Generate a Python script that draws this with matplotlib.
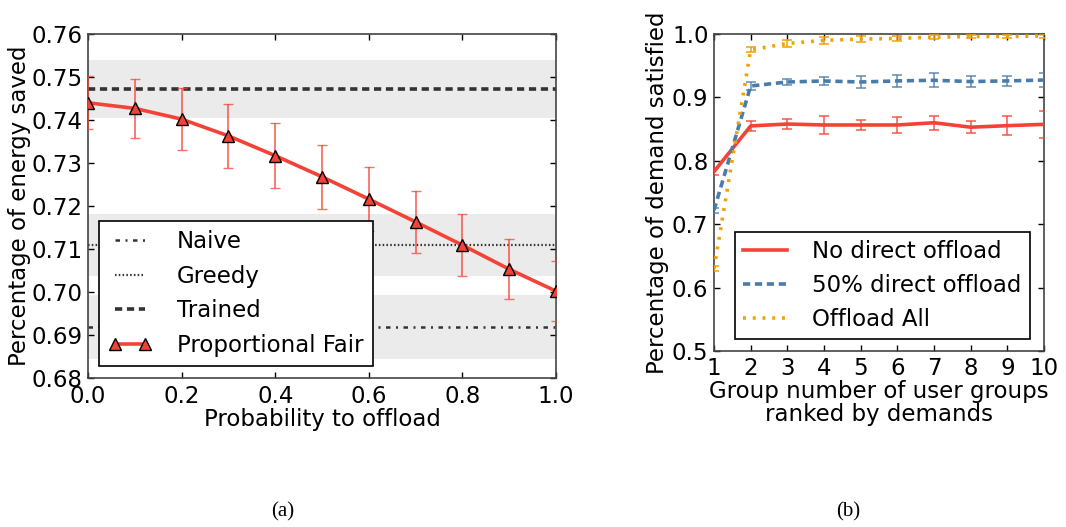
import matplotlib
matplotlib.use("Agg")
import matplotlib.pyplot as plt
from matplotlib.lines import Line2D
import numpy as np

# ---- (a) energy saved vs. offload probability ----
prob = [0.0, 0.1, 0.2, 0.3, 0.4, 0.5, 0.6, 0.7, 0.8, 0.9, 1.0]
pf_mean = [0.7440, 0.7427, 0.7402, 0.7363, 0.7317, 0.7268, 0.7216, 0.7163, 0.7109, 0.7053, 0.7002]
pf_err = [0.0062, 0.0069, 0.0072, 0.0074, 0.0075, 0.0074, 0.0075, 0.0072, 0.0072, 0.0070, 0.0070]

naive_mean, naive_lo, naive_hi = 0.6919, 0.6844, 0.6993
greedy_mean, greedy_lo, greedy_hi = 0.7109, 0.7037, 0.7182
trained_mean, trained_lo, trained_hi = 0.7472, 0.7405, 0.7540

# ---- (b) demand satisfied per user group ----
groups = [1, 2, 3, 4, 5, 6, 7, 8, 9, 10]
no_direct = [0.783, 0.855, 0.858, 0.8565, 0.8565, 0.8565, 0.860, 0.853, 0.8554, 0.8575]
no_direct_err = [0.005, 0.008, 0.0074, 0.0147, 0.008, 0.0124, 0.011, 0.009, 0.015, 0.0216]
half_direct = [0.722, 0.918, 0.9243, 0.9259, 0.9243, 0.926, 0.927, 0.925, 0.926, 0.9274]
half_direct_err = [0.004, 0.007, 0.0055, 0.007, 0.0095, 0.0097, 0.011, 0.009, 0.008, 0.0116]
offload_all = [0.630, 0.975, 0.985, 0.990, 0.992, 0.993, 0.995, 0.996, 0.996, 0.997]
offload_all_err = [0.004, 0.004, 0.005, 0.005, 0.005, 0.004, 0.003, 0.003, 0.003, 0.003]

RED = "#f44336"
BLUE = "#4a7cab"
ORANGE = "#f2a007"
DARK = "#333333"
BAND = "#ebebeb"
FS = 16.5

plt.rcParams["font.family"] = "DejaVu Sans"
plt.rcParams["font.size"] = FS

fig = plt.figure(figsize=(10.66, 5.27), dpi=100)
W, H = 1066, 527
ax1 = fig.add_axes([88 / W, 1 - 378 / H, (556 - 88) / W, (378 - 34) / H])
ax2 = fig.add_axes([714 / W, 1 - 351 / H, (1044 - 714) / W, (351 - 34) / H])

def style_axes(ax):
    ax.tick_params(direction="in", top=True, right=True, length=4, width=1,
                   labelsize=FS, pad=4)
    for s in ax.spines.values():
        s.set_color("#444444")
        s.set_linewidth(1.2)

# panel (a)
for lo, hi in [(naive_lo, naive_hi), (greedy_lo, greedy_hi), (trained_lo, trained_hi)]:
    ax1.axhspan(lo, hi, color=BAND, lw=0, zorder=0)

h_naive = ax1.axhline(naive_mean, color=DARK, lw=1.8, linestyle=(0, (1.8, 2.2, 0.8, 2.2)),
                      zorder=2)
h_greedy = ax1.axhline(greedy_mean, color=DARK, lw=1.6, linestyle=(0, (0.7, 1.0)),
                       zorder=2)
h_trained = ax1.axhline(trained_mean, color=DARK, lw=2.6, linestyle=(0, (2.0, 1.3)),
                        zorder=2)

pf = ax1.errorbar(prob, pf_mean, yerr=pf_err, color=RED, lw=2.6, marker="^", ms=8,
                  mfc=RED, mec="black", mew=1.0, ecolor=(0.96, 0.26, 0.21, 0.75),
                  elinewidth=1.3, capsize=3.5, capthick=1.3, zorder=3)

ax1.set_xlim(0, 1.0)
ax1.set_ylim(0.68, 0.76)
ax1.set_xticks(np.arange(0, 1.01, 0.2))
ax1.set_yticks(np.arange(0.68, 0.7601, 0.01))
ax1.set_xticklabels(["0.0", "0.2", "0.4", "0.6", "0.8", "1.0"])
ax1.set_yticklabels(["%.2f" % v for v in np.arange(0.68, 0.7601, 0.01)])
ax1.set_xlabel("Probability to offload", fontsize=FS, labelpad=0)
ax1.set_ylabel("Percentage of energy saved", fontsize=FS, labelpad=0)
style_axes(ax1)
ax1.tick_params(axis="x", pad=5)
pf_handle = Line2D([], [], color=RED, lw=2.6, marker="^", ms=8, mfc=RED, mec="black", mew=1.0)
leg1 = ax1.legend([h_naive, h_greedy, h_trained, pf_handle],
                  ["Naive", "Greedy", "Trained", "Proportional Fair"],
                  loc="lower left", bbox_to_anchor=(0.024, 0.035), fontsize=FS, numpoints=2,
                  frameon=True, fancybox=False, edgecolor="black", framealpha=1,
                  handlelength=1.9, handletextpad=1.1, borderpad=0.4, labelspacing=0.5,
                  borderaxespad=0.0)
leg1.get_frame().set_linewidth(1.2)

# panel (b)
e1 = ax2.errorbar(groups, no_direct, yerr=no_direct_err, color=RED, lw=2.6,
                  ecolor=(0.96, 0.26, 0.21, 0.75), elinewidth=1.3, capsize=3.5, capthick=1.3,
                  zorder=3)
e2 = ax2.errorbar(groups, half_direct, yerr=half_direct_err, color=BLUE, lw=2.6,
                  linestyle=(0, (2.0, 1.3)), ecolor=(0.29, 0.49, 0.67, 0.75), elinewidth=1.3,
                  capsize=3.5, capthick=1.3, zorder=3)
e3 = ax2.errorbar(groups, offload_all, yerr=offload_all_err, color=ORANGE, lw=2.6,
                  linestyle=(0, (0.8, 1.9)), ecolor=(0.95, 0.63, 0.03, 0.85),
                  elinewidth=1.3, capsize=3.5, capthick=1.3, zorder=3)

ax2.set_xlim(1, 10)
ax2.set_ylim(0.5, 1.0)
ax2.set_xticks(groups)
ax2.set_yticks([0.5, 0.6, 0.7, 0.8, 0.9, 1.0])
ax2.set_xlabel("Group number of user groups\nranked by demands", fontsize=FS,
               labelpad=0, linespacing=1.05)
ax2.set_ylabel("Percentage of demand satisfied", fontsize=FS, labelpad=2)
style_axes(ax2)
leg2 = ax2.legend([e1.lines[0], e2.lines[0], e3.lines[0]],
                  ["No direct offload", "50% direct offload", "Offload All"],
                  loc="lower left", bbox_to_anchor=(0.065, 0.038), fontsize=FS,
                  frameon=True, fancybox=False, edgecolor="black", framealpha=1,
                  handlelength=1.9, handletextpad=1.1, borderpad=0.35, labelspacing=0.48,
                  borderaxespad=0.0)
leg2.get_frame().set_linewidth(1.2)

fig.text(283 / W, 1 - 512 / H, "(a)", family="Liberation Serif", fontsize=15,
         ha="center", va="center")
fig.text(848 / W, 1 - 512 / H, "(b)", family="Liberation Serif", fontsize=15,
         ha="center", va="center")

fig.savefig("out.png", dpi=100)
